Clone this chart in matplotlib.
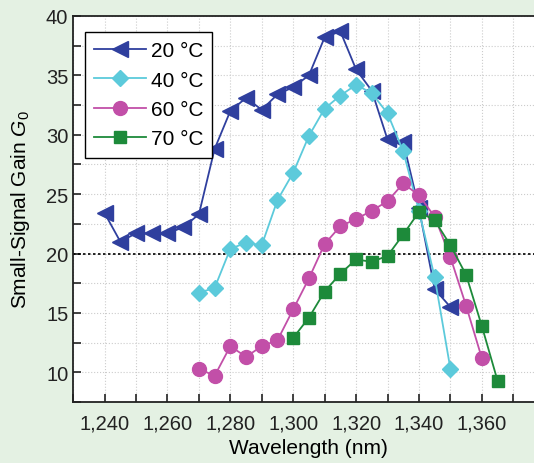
import matplotlib
matplotlib.use("Agg")
import matplotlib.pyplot as plt
from matplotlib.ticker import MultipleLocator, FixedLocator, FuncFormatter

plt.rcParams['font.family'] = ['Liberation Sans', 'DejaVu Sans']
plt.rcParams['mathtext.fontset'] = 'custom'
plt.rcParams['mathtext.it'] = 'Liberation Sans:italic'
plt.rcParams['mathtext.rm'] = 'Liberation Sans'

# data
wl_20 = [1240, 1245, 1250, 1255, 1260, 1265, 1270, 1275, 1280, 1285, 1290, 1295,
         1300, 1305, 1310, 1315, 1320, 1325, 1330, 1335, 1340, 1345, 1350]
g_20 = [23.4, 21.0, 21.7, 21.7, 21.7, 22.2, 23.3, 28.8, 32.0, 33.1, 32.1, 33.4,
        34.0, 35.0, 38.2, 38.7, 35.5, 33.7, 29.6, 29.4, 23.8, 17.0, 15.5]

wl_40 = [1270, 1275, 1280, 1285, 1290, 1295, 1300, 1305, 1310, 1315, 1320, 1325,
         1330, 1335, 1340, 1345, 1350]
g_40 = [16.7, 17.1, 20.4, 20.9, 20.7, 24.5, 26.8, 29.9, 32.2, 33.3, 34.2, 33.5,
        31.8, 28.6, 23.6, 18.0, 10.3]

wl_60 = [1270, 1275, 1280, 1285, 1290, 1295, 1300, 1305, 1310, 1315, 1320, 1325,
         1330, 1335, 1340, 1345, 1350, 1355, 1360]
g_60 = [10.3, 9.7, 12.2, 11.3, 12.2, 12.7, 15.3, 17.9, 20.8, 22.3, 22.9, 23.6,
        24.4, 25.9, 24.9, 23.1, 19.7, 15.6, 11.2]

wl_70 = [1300, 1305, 1310, 1315, 1320, 1325, 1330, 1335, 1340, 1345, 1350, 1355,
         1360, 1365]
g_70 = [12.9, 14.6, 16.8, 18.3, 19.5, 19.3, 19.8, 21.6, 23.5, 22.8, 20.7, 18.2,
        13.9, 9.3]

labels = ["20 °C", "40 °C", "60 °C", "70 °C"]
xticks = [1240, 1260, 1280, 1300, 1320, 1340, 1360]
threshold = 20

fig = plt.figure(figsize=(5.34, 4.64), dpi=100, facecolor="#e4f1e3")
ax = fig.add_axes([0.137, 0.1315, 0.883, 0.832])
ax.set_facecolor("white")

ax.plot(wl_20, g_20, "-<", color="#2f3f9e", ms=11.5, lw=1.3, label=labels[0])
ax.plot(wl_40, g_40, "-D", color="#5ccadb", ms=8.5, lw=1.3, label=labels[1])
ax.plot(wl_60, g_60, "-o", color="#c24fa8", ms=10, lw=1.3, label=labels[2])
ax.plot(wl_70, g_70, "-s", color="#1d8a3a", ms=8, lw=1.3, label=labels[3])

ax.axhline(threshold, color="black", ls=(0, (1.5, 1.5)), lw=1.2, zorder=1)

ax.set_xlim(1230, 1380)
ax.set_ylim(7.5, 40)
ax.xaxis.set_major_locator(FixedLocator(xticks))
ax.xaxis.set_minor_locator(MultipleLocator(10))
ax.yaxis.set_major_locator(MultipleLocator(5))
ax.yaxis.set_minor_locator(MultipleLocator(2.5))
ax.xaxis.set_major_formatter(FuncFormatter(lambda v, p: f"{int(v):,}"))

ax.grid(True, which="both", color="#cccccc", ls=":", lw=0.8)
ax.set_axisbelow(True)
ax.tick_params(which="both", direction="in", length=6, width=1.2, labelsize=14.5,
               top=False, right=False, colors="#222222")
ax.tick_params(axis="x", pad=8)
for s in ax.spines.values():
    s.set_linewidth(1.3)
    s.set_color("#222222")

ax.set_xlabel("Wavelength (nm)", fontsize=15, labelpad=4)
ax.set_ylabel("Small-Signal Gain $G_0$", fontsize=15, labelpad=10)

leg = ax.legend(loc="upper left", bbox_to_anchor=(0.025, 0.959), borderaxespad=0,
                fontsize=15, fancybox=False, framealpha=1, edgecolor="black",
                handlelength=2.5, handletextpad=0.2, labelspacing=0.5, borderpad=0.45)
leg.get_frame().set_linewidth(1.0)

fig.savefig("out.png", dpi=100, facecolor=fig.get_facecolor())
